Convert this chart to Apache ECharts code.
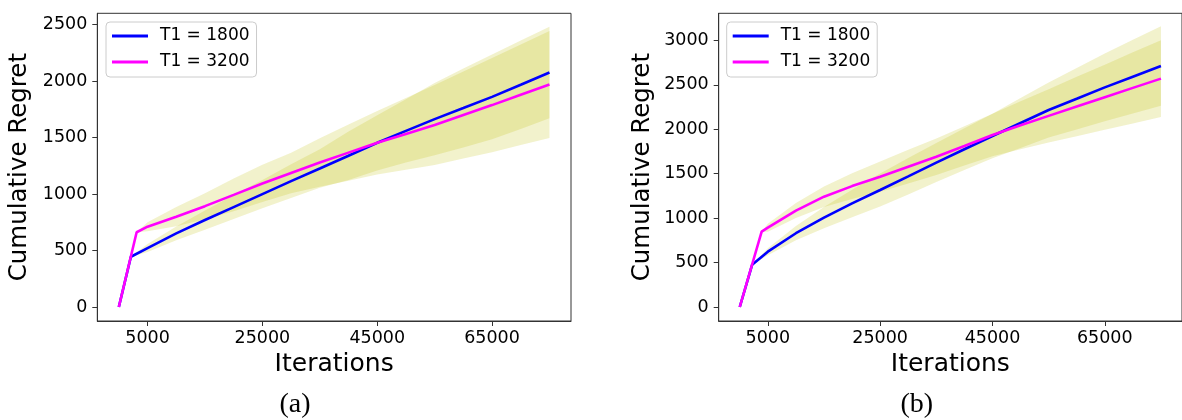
<!DOCTYPE html>
<html>
<head>
<meta charset="utf-8">
<script src="https://cdn.jsdelivr.net/npm/echarts@6/dist/echarts.min.js"></script>
<style>
html,body{margin:0;padding:0;background:#fff;}
#chart{width:1182px;height:420px;}
</style>
</head>
<body>
<div id="chart"></div>
<script>
// ---- Data ----
const seriesNames = ['T1 = 1800', 'T1 = 3200'];
const xTicks = [5000, 25000, 45000, 65000];
const yTicksA = [0, 500, 1000, 1500, 2000, 2500];
const yTicksB = [0, 500, 1000, 1500, 2000, 2500, 3000];
const captions = ['(a)', '(b)'];

// Panel (a)
const iterBlueA = [0, 2100, 5000, 10000, 15000, 20000, 25000, 30000, 35000, 40000, 45000, 50000, 55000, 60000, 65000, 70000, 75000];
const meanBlueA = [0, 445, 522, 652, 770, 885, 1000, 1115, 1227, 1340, 1454, 1560, 1664, 1762, 1861, 1968, 2077];
const hwBlueA   = [0, 0, 35, 60, 85, 105, 125, 150, 170, 215, 245, 280, 320, 350, 375, 392, 405];
const iterMagA  = [0, 3100, 5000, 10000, 15000, 20000, 25000, 30000, 35000, 40000, 45000, 50000, 55000, 60000, 65000, 70000, 75000];
const meanMagA  = [0, 662, 711, 800, 893, 993, 1094, 1187, 1280, 1367, 1454, 1533, 1611, 1700, 1788, 1880, 1971];
const hwMagA    = [0, 0, 40, 85, 115, 145, 165, 180, 215, 250, 281, 317, 354, 385, 417, 445, 474];

// Panel (b)
const iterBlueB = [0, 2200, 5000, 10000, 15000, 20000, 25000, 30000, 35000, 40000, 45000, 50000, 55000, 60000, 65000, 70000, 75000];
const meanBlueB = [0, 475, 622, 830, 1005, 1165, 1316, 1470, 1625, 1775, 1924, 2070, 2216, 2343, 2471, 2591, 2711];
const hwBlueB   = [0, 0, 40, 80, 120, 155, 185, 205, 220, 235, 250, 280, 310, 345, 380, 415, 447];
const iterMagB  = [0, 3900, 5000, 10000, 15000, 20000, 25000, 30000, 35000, 40000, 45000, 50000, 55000, 60000, 65000, 70000, 75000];
const meanMagB  = [0, 847, 892, 1085, 1241, 1360, 1466, 1578, 1690, 1812, 1935, 2045, 2150, 2255, 2360, 2465, 2569];
const hwMagB    = [0, 0, 45, 85, 115, 145, 170, 190, 205, 220, 240, 270, 300, 335, 365, 400, 431];

// ---- Styling ----
const BLUE = '#0000ff', MAGENTA = '#ff00ff';
const BAND = 'rgba(191,191,0,0.2)';
const AXIS = '#333';
const FONT = 'DejaVu Sans';

const pairs = (xs, ys) => xs.map((x, i) => [x, ys[i]]);

// shaded band (mean ± half width) drawn as one polygon through the axes' scales
function bandSeries(idx, xs, mean, hw) {
  return {
    type: 'custom', xAxisIndex: idx, yAxisIndex: idx, silent: true, z: 1,
    data: [[xs[0], mean[0]]],
    renderItem: function (params, api) {
      const upper = xs.map((x, i) => api.coord([x, mean[i] + hw[i]]));
      const lower = xs.map((x, i) => api.coord([x, mean[i] - hw[i]])).reverse();
      return { type: 'polygon', shape: { points: upper.concat(lower) },
        style: { fill: BAND, stroke: null } };
    }
  };
}
function meanSeries(idx, xs, mean, name, color) {
  return { type: 'line', name: name, xAxisIndex: idx, yAxisIndex: idx,
    data: pairs(xs, mean), showSymbol: false, color: color,
    lineStyle: { color: color, width: 2.6 }, z: 3 };
}

const gridW = 473.7, gridH = 307.7;
function xAxisFor(idx) {
  return { type: 'value', gridIndex: idx, min: -3750, max: 78750,
    name: 'Iterations', nameLocation: 'middle', nameGap: 31,
    nameTextStyle: { fontFamily: FONT, fontSize: 25, color: '#000' },
    axisLine: { show: true, onZero: false, lineStyle: { color: AXIS, width: 1 } },
    axisTick: { show: true, inside: false, length: 5, customValues: xTicks, lineStyle: { color: AXIS } },
    axisLabel: { customValues: xTicks, margin: 8, fontFamily: FONT, fontSize: 17.5, color: '#000',
      formatter: v => String(v) },
    splitLine: { show: false } };
}
function yAxisFor(idx, min, max, ticks, gap) {
  return { type: 'value', gridIndex: idx, min: min, max: max,
    name: 'Cumulative Regret', nameLocation: 'middle', nameGap: gap, nameRotate: 90,
    nameTextStyle: { fontFamily: FONT, fontSize: 24.5, color: '#000' },
    axisLine: { show: true, onZero: false, lineStyle: { color: AXIS, width: 1 } },
    axisTick: { show: true, inside: false, length: 5, customValues: ticks, lineStyle: { color: AXIS } },
    axisLabel: { customValues: ticks, margin: 10, fontFamily: FONT, fontSize: 17.5, color: '#000',
      formatter: v => String(v) },
    splitLine: { show: false } };
}
function legendFor(left) {
  return { show: true, orient: 'vertical', left: left, top: 22,
    data: seriesNames, icon: 'rect', itemWidth: 36, itemHeight: 3, itemGap: 6,
    padding: [4, 7, 5, 6], backgroundColor: 'rgba(255,255,255,0.8)',
    borderColor: '#cccccc', borderWidth: 1, borderRadius: 4, selectedMode: false,
    textStyle: { fontFamily: FONT, fontSize: 17, color: '#000', lineHeight: 20, padding: [0, 0, 0, 7] } };
}

const option = {
  animation: false,
  backgroundColor: '#fff',
  grid: [
    { left: 97.3, top: 13.3, width: gridW, height: gridH, show: true, borderColor: AXIS, borderWidth: 1, containLabel: false },
    { left: 718.7, top: 13.3, width: gridW, height: gridH, show: true, borderColor: AXIS, borderWidth: 1, containLabel: false }
  ],
  xAxis: [xAxisFor(0), xAxisFor(1)],
  yAxis: [yAxisFor(0, -124, 2601, yTicksA, 65), yAxisFor(1, -157.5, 3304, yTicksB, 64)],
  legend: [legendFor(106), legendFor(726.7)],
  graphic: [
    { type: 'text', x: 295, y: 405, style: { text: captions[0], font: '28px "Liberation Serif"', fill: '#000', textAlign: 'center', textVerticalAlign: 'middle' } },
    { type: 'text', x: 916.7, y: 405, style: { text: captions[1], font: '28px "Liberation Serif"', fill: '#000', textAlign: 'center', textVerticalAlign: 'middle' } }
  ],
  series: [
    bandSeries(0, iterBlueA, meanBlueA, hwBlueA),
    bandSeries(0, iterMagA, meanMagA, hwMagA),
    meanSeries(0, iterBlueA, meanBlueA, seriesNames[0], BLUE),
    meanSeries(0, iterMagA, meanMagA, seriesNames[1], MAGENTA),
    bandSeries(1, iterBlueB, meanBlueB, hwBlueB),
    bandSeries(1, iterMagB, meanMagB, hwMagB),
    meanSeries(1, iterBlueB, meanBlueB, seriesNames[0], BLUE),
    meanSeries(1, iterMagB, meanMagB, seriesNames[1], MAGENTA)
  ]
};

const chart = echarts.init(document.getElementById('chart'), null, { renderer: 'canvas' });
chart.setOption(option);
</script>
</body>
</html>
